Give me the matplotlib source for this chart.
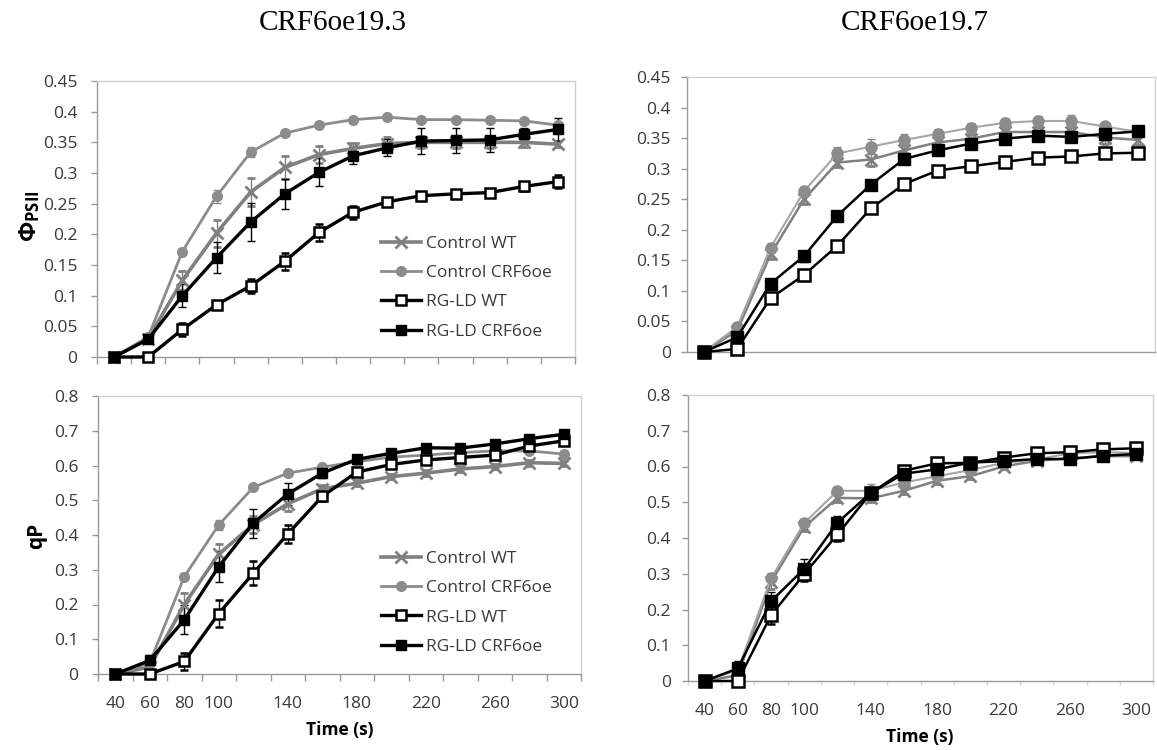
import matplotlib
matplotlib.use("Agg")
import matplotlib.pyplot as plt
import numpy as np

# ---- data -------------------------------------------------------------
time_s = [40, 60, 80, 100, 120, 140, 160, 180, 200, 220, 240, 260, 280, 300]
shown_labels = ["40", "60", "80", "100", "140", "180", "220", "260", "300"]
series_names = ["Control WT", "Control CRF6oe", "RG-LD WT", "RG-LD CRF6oe"]

# Phi PSII, line CRF6oe19.3
phi193_ctrl_wt = [0, 0.030, 0.125, 0.202, 0.269, 0.309, 0.330, 0.340, 0.348, 0.350, 0.350, 0.350, 0.350, 0.347]
phi193_ctrl_wt_err = [0, 0.004, 0.016, 0.022, 0.023, 0.018, 0.014, 0.009, 0.010, 0.010, 0.010, 0.010, 0.008, 0.005]
phi193_ctrl_oe = [0, 0.033, 0.172, 0.262, 0.334, 0.365, 0.378, 0.387, 0.391, 0.387, 0.387, 0.386, 0.385, 0.378]
phi193_ctrl_oe_err = [0, 0.004, 0.005, 0.011, 0.008, 0.004, 0.005, 0.004, 0.004, 0.004, 0.004, 0.005, 0.005, 0.005]
phi193_rgld_wt = [0, 0, 0.045, 0.085, 0.116, 0.156, 0.203, 0.236, 0.253, 0.263, 0.266, 0.268, 0.278, 0.286]
phi193_rgld_wt_err = [0, 0.002, 0.010, 0.005, 0.011, 0.014, 0.014, 0.011, 0.004, 0.003, 0.004, 0.006, 0.007, 0.011]
phi193_rgld_oe = [0, 0.029, 0.100, 0.162, 0.220, 0.266, 0.301, 0.328, 0.341, 0.352, 0.353, 0.354, 0.363, 0.371]
phi193_rgld_oe_err = [0, 0.006, 0.019, 0.025, 0.031, 0.025, 0.023, 0.014, 0.014, 0.021, 0.021, 0.020, 0.010, 0.019]

# Phi PSII, line CRF6oe19.7
phi197_ctrl_wt = [0, 0.035, 0.160, 0.250, 0.310, 0.315, 0.330, 0.343, 0.349, 0.360, 0.360, 0.360, 0.351, 0.347]
phi197_ctrl_wt_err = [0, 0.004, 0.008, 0.008, 0.008, 0.010, 0.008, 0.008, 0.008, 0.008, 0.008, 0.008, 0.010, 0.008]
phi197_ctrl_oe = [0, 0.041, 0.171, 0.263, 0.325, 0.336, 0.347, 0.357, 0.367, 0.375, 0.378, 0.378, 0.369, 0.360]
phi197_ctrl_oe_err = [0, 0.004, 0.007, 0.006, 0.010, 0.012, 0.010, 0.008, 0.007, 0.008, 0.008, 0.010, 0.006, 0.004]
phi197_rgld_wt = [0, 0.005, 0.088, 0.126, 0.174, 0.235, 0.275, 0.297, 0.304, 0.311, 0.318, 0.320, 0.325, 0.326]
phi197_rgld_wt_err = [0, 0.002, 0.006, 0.006, 0.008, 0.007, 0.005, 0.005, 0.005, 0.004, 0.004, 0.004, 0.004, 0.004]
phi197_rgld_oe = [0, 0.024, 0.112, 0.157, 0.223, 0.274, 0.316, 0.330, 0.341, 0.349, 0.354, 0.352, 0.357, 0.361]
phi197_rgld_oe_err = [0, 0.005, 0.008, 0.009, 0.008, 0.006, 0.005, 0.004, 0.004, 0.004, 0.004, 0.004, 0.004, 0.004]

# qP, line CRF6oe19.3
qp193_ctrl_wt = [0, 0.020, 0.200, 0.345, 0.430, 0.490, 0.533, 0.549, 0.568, 0.578, 0.590, 0.597, 0.608, 0.606]
qp193_ctrl_wt_err = [0, 0.010, 0.033, 0.028, 0.024, 0.020, 0.010, 0.008, 0.008, 0.008, 0.008, 0.008, 0.008, 0.008]
qp193_ctrl_oe = [0, 0.032, 0.280, 0.429, 0.537, 0.578, 0.595, 0.611, 0.624, 0.630, 0.637, 0.642, 0.642, 0.633]
qp193_ctrl_oe_err = [0, 0.010, 0.010, 0.015, 0.008, 0.006, 0.006, 0.006, 0.006, 0.008, 0.008, 0.008, 0.008, 0.008]
qp193_rgld_wt = [0, 0, 0.036, 0.174, 0.290, 0.403, 0.511, 0.581, 0.603, 0.616, 0.623, 0.630, 0.656, 0.671]
qp193_rgld_wt_err = [0, 0.002, 0.025, 0.040, 0.035, 0.025, 0.012, 0.008, 0.008, 0.008, 0.010, 0.008, 0.008, 0.008]
qp193_rgld_oe = [0, 0.039, 0.156, 0.309, 0.434, 0.518, 0.578, 0.618, 0.635, 0.651, 0.650, 0.662, 0.677, 0.690]
qp193_rgld_oe_err = [0, 0.015, 0.042, 0.044, 0.042, 0.032, 0.015, 0.010, 0.008, 0.008, 0.012, 0.010, 0.008, 0.008]

# qP, line CRF6oe19.7
qp197_ctrl_wt = [0, 0.016, 0.277, 0.431, 0.512, 0.511, 0.532, 0.560, 0.573, 0.600, 0.616, 0.623, 0.629, 0.629]
qp197_ctrl_wt_err = [0, 0.010, 0.020, 0.012, 0.010, 0.010, 0.008, 0.008, 0.008, 0.008, 0.008, 0.008, 0.008, 0.008]
qp197_ctrl_oe = [0, 0.030, 0.287, 0.442, 0.532, 0.532, 0.555, 0.573, 0.590, 0.610, 0.620, 0.637, 0.640, 0.638]
qp197_ctrl_oe_err = [0, 0.015, 0.015, 0.012, 0.010, 0.020, 0.010, 0.008, 0.008, 0.008, 0.008, 0.020, 0.008, 0.008]
qp197_rgld_wt = [0, 0, 0.184, 0.299, 0.410, 0.525, 0.588, 0.609, 0.610, 0.625, 0.637, 0.640, 0.648, 0.651]
qp197_rgld_wt_err = [0, 0.002, 0.025, 0.020, 0.018, 0.010, 0.008, 0.008, 0.008, 0.006, 0.006, 0.006, 0.006, 0.006]
qp197_rgld_oe = [0, 0.035, 0.223, 0.314, 0.443, 0.526, 0.580, 0.592, 0.611, 0.615, 0.621, 0.621, 0.630, 0.635]
qp197_rgld_oe_err = [0, 0.020, 0.025, 0.028, 0.018, 0.012, 0.008, 0.008, 0.008, 0.006, 0.006, 0.006, 0.006, 0.006]

# ---- style ------------------------------------------------------------
plt.rcParams["font.family"] = ["Open Sans", "DejaVu Sans"]
plt.rcParams["mathtext.fontset"] = "custom"
plt.rcParams["mathtext.rm"] = "Open Sans"
plt.rcParams["mathtext.bf"] = "Open Sans:bold"

W, H = 1157, 750
fig = plt.figure(figsize=(W / 100, H / 100), dpi=100)


def px_axes(x0, y0, x1, y1):
    """Axes from pixel box (left, top, right, bottom)."""
    return fig.add_axes([x0 / W, 1 - y1 / H, (x1 - x0) / W, (y1 - y0) / H])


tick_fs = 12.5
TEXT = "#3a3a3a"


def style_axes(ax, ymax, ystep, xticks_mode, show_xlabels, ypad):
    n = len(time_s)
    ax.set_xlim(-0.5, n - 0.5)
    ax.set_ylim(0, ymax)
    yt = np.round(np.arange(0, ymax + ystep / 2, ystep), 3)
    ax.set_yticks(yt)
    ax.set_yticklabels(["0" if v == 0 else "%g" % v for v in yt])
    for side in ["top", "right"]:
        ax.spines[side].set_color("#d0d0d0")
        ax.spines[side].set_linewidth(1.0)
    for side in ["left", "bottom"]:
        ax.spines[side].set_color("#9a9a9a")
        ax.spines[side].set_linewidth(1.0)
    ax.tick_params(axis="y", direction="out", length=4, width=1, color="#9a9a9a",
                   labelsize=tick_fs, labelcolor=TEXT, pad=ypad)
    # category labels
    idx = [time_s.index(int(s)) for s in shown_labels]
    ax.set_xticks(idx)
    if show_xlabels:
        ax.set_xticklabels(shown_labels)
    else:
        ax.set_xticklabels([])
    ax.tick_params(axis="x", which="major", length=0, labelsize=tick_fs,
                   labelcolor=TEXT, pad=16)
    # divider ticks between categories
    ax.set_xticks(np.arange(-0.5, n, 1.0), minor=True)
    if xticks_mode == "solid":
        ax.tick_params(axis="x", which="minor", direction="out", length=5,
                       width=1, color="#9a9a9a")
    elif xticks_mode == "faint":
        ax.tick_params(axis="x", which="minor", direction="out", length=3,
                       width=1, color="#d8d8d8")
    else:
        ax.tick_params(axis="x", which="minor", length=0)


def draw_series(ax, data, thin=False):
    x = np.arange(len(time_s))
    lw_dark = 1.8 if thin else 2.4
    sq = 9 if thin else 7
    specs = [
        dict(color="#808080", lw=1.8 if thin else 2.6, marker="x", ms=8, mew=2.0,
             mfc="#808080", mec="#808080", ecolor="#808080"),
        dict(color="#a6a6a6" if thin else "#8c8c8c", lw=1.5 if thin else 2.0, marker="o",
             ms=8 if thin else 7, mew=1, mfc="#8c8c8c", mec="#8c8c8c", ecolor="#8c8c8c"),
        dict(color="black", lw=lw_dark, marker="s", ms=sq, mew=1.8,
             mfc="white", mec="black", ecolor="black"),
        dict(color="black", lw=lw_dark, marker="s", ms=sq, mew=1.0,
             mfc="black", mec="black", ecolor="black"),
    ]
    handles = []
    for (vals, errs), name, sp in zip(data, series_names, specs):
        eb = ax.errorbar(x, vals, yerr=errs, color=sp["color"], lw=sp["lw"],
                         marker=sp["marker"], ms=sp["ms"], mew=sp["mew"],
                         mfc=sp["mfc"], mec=sp["mec"], ecolor=sp["ecolor"],
                         elinewidth=1.0, capsize=3, capthick=1.0, label=name,
                         clip_on=False, zorder=3)
        handles.append(eb)
    return handles


def add_legend(ax, handles, top_px):
    ax.legend(handles=[hh[0] for hh in handles], labels=series_names, loc="upper left",
              bbox_to_anchor=(381 / W, 1 - top_px / H), bbox_transform=fig.transFigure,
              frameon=False, fontsize=12.5, handlelength=2.3, handletextpad=0.3,
              labelspacing=0.75, borderpad=0, borderaxespad=0, labelcolor=TEXT)


# top-left: Phi PSII, 19.3
ax_tl = px_axes(97, 81, 575, 357)
h = draw_series(ax_tl, [(phi193_ctrl_wt, phi193_ctrl_wt_err),
                        (phi193_ctrl_oe, phi193_ctrl_oe_err),
                        (phi193_rgld_wt, phi193_rgld_wt_err),
                        (phi193_rgld_oe, phi193_rgld_oe_err)])
style_axes(ax_tl, 0.45, 0.05, "solid", False, 10)
add_legend(ax_tl, h, 236)

# top-right: Phi PSII, 19.7
ax_tr = px_axes(687, 77, 1155, 352)
draw_series(ax_tr, [(phi197_ctrl_wt, phi197_ctrl_wt_err),
                    (phi197_ctrl_oe, phi197_ctrl_oe_err),
                    (phi197_rgld_wt, phi197_rgld_wt_err),
                    (phi197_rgld_oe, phi197_rgld_oe_err)], thin=True)
style_axes(ax_tr, 0.45, 0.05, "none", False, 7.5)

# bottom-left: qP, 19.3
ax_bl = px_axes(98, 396, 581, 674)
h = draw_series(ax_bl, [(qp193_ctrl_wt, qp193_ctrl_wt_err),
                        (qp193_ctrl_oe, qp193_ctrl_oe_err),
                        (qp193_rgld_wt, qp193_rgld_wt_err),
                        (qp193_rgld_oe, qp193_rgld_oe_err)])
style_axes(ax_bl, 0.8, 0.1, "solid", True, 10)
add_legend(ax_bl, h, 551)

# bottom-right: qP, 19.7
ax_br = px_axes(688, 395, 1153, 681)
draw_series(ax_br, [(qp197_ctrl_wt, qp197_ctrl_wt_err),
                    (qp197_ctrl_oe, qp197_ctrl_oe_err),
                    (qp197_rgld_wt, qp197_rgld_wt_err),
                    (qp197_rgld_oe, qp197_rgld_oe_err)], thin=True)
style_axes(ax_br, 0.8, 0.1, "faint", True, 8.5)

# titles and axis labels
fig.text(333 / W, 1 - 23 / H, "CRF6oe19.3", family="Liberation Serif", fontsize=21,
         ha="center", va="center", color="black")
fig.text(915 / W, 1 - 23 / H, "CRF6oe19.7", family="Liberation Serif", fontsize=21,
         ha="center", va="center", color="black")
fig.text(30 / W, 1 - 216 / H, r"$\mathbf{\Phi_{PSII}}$", fontsize=17, rotation=90,
         ha="center", va="center", color="black")
fig.text(37 / W, 1 - 536 / H, "qP", fontsize=15, fontweight="bold", rotation=90,
         ha="center", va="center", color="black")
fig.text(340 / W, 1 - 730 / H, "Time (s)", fontsize=12.5, fontweight="bold",
         ha="center", va="center", color="black")
fig.text(920 / W, 1 - 737 / H, "Time (s)", fontsize=12.5, fontweight="bold",
         ha="center", va="center", color="black")

fig.savefig("out.png", dpi=100)
